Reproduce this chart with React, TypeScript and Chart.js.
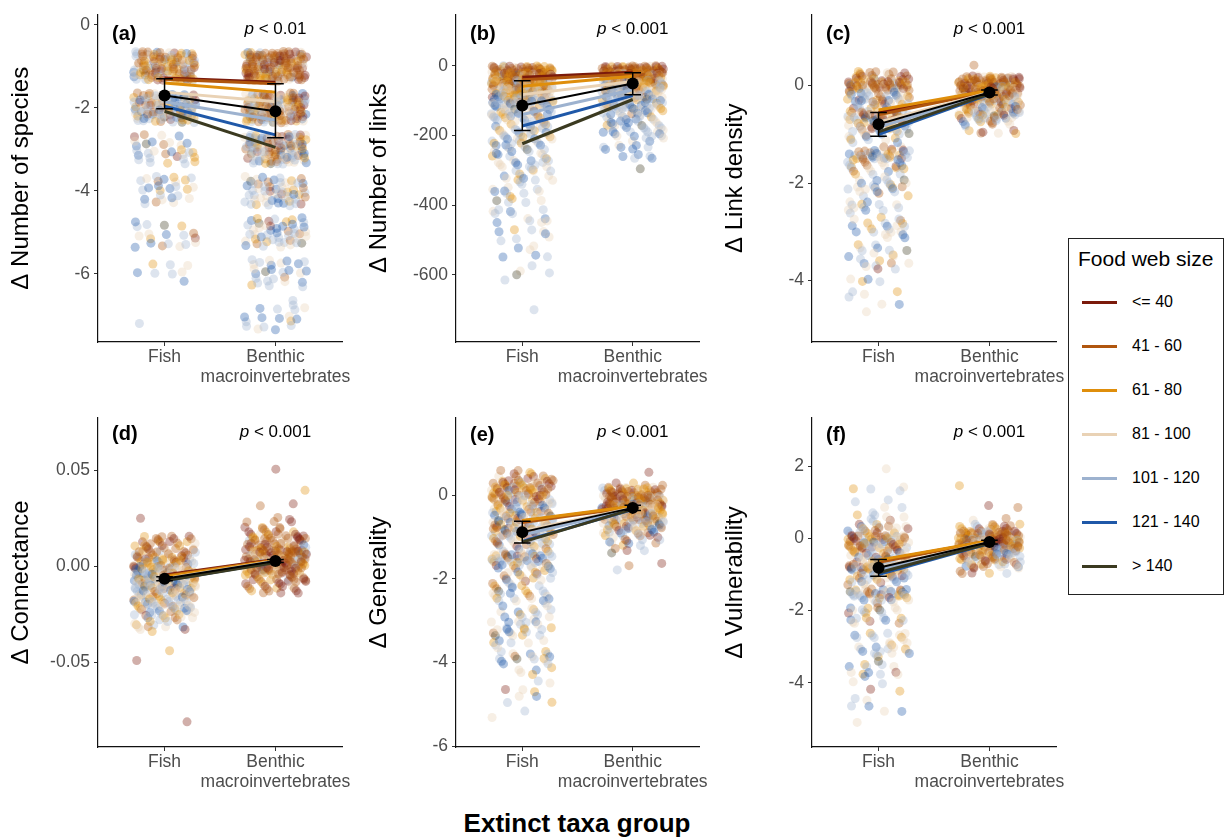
import React, { useEffect, useRef } from "react";
import { Chart, registerables } from "chart.js";

Chart.register(...registerables);

const FONT = "'Liberation Sans', Arial, Helvetica, sans-serif";

const SIZE_CLASSES = ["<= 40", "41 - 60", "61 - 80", "81 - 100", "101 - 120", "121 - 140", "> 140"];
const CLASS_COLORS = ["#7b1a0b", "#b0560e", "#df8e0b", "#e9d2b5", "#9db2cf", "#1f58a8", "#3b3a20"];
const GROUPS: (string | string[])[] = ["Fish", ["Benthic", "macroinvertebrates"]];
const X_TITLE = "Extinct taxa group";
const LEGEND_TITLE = "Food web size";

// rows: [y level, counts per food-web-size class (<=40 ... >140)]
// (a) number of species
const A_TICKS = [0, -2, -4, -6];
const A_FISH_ROWS = [
  [-1, 14, 30, 30, 20, 20, 8, 2],
  [-2, 6, 14, 16, 18, 28, 18, 3],
  [-3, 2, 3, 5, 6, 8, 6, 1],
  [-4, 0, 2, 4, 6, 8, 6, 0],
  [-5, 1, 2, 2, 4, 5, 4, 1],
  [-6, 0, 0, 1, 2, 3, 2, 0],
  [-7, 0, 0, 0, 0, 1, 0, 0],
];
const A_BENTHIC_ROWS = [
  [-1, 30, 50, 30, 20, 15, 5, 2],
  [-2, 18, 30, 25, 25, 25, 10, 3],
  [-3, 10, 18, 14, 20, 25, 15, 3],
  [-4, 3, 6, 6, 12, 18, 10, 1],
  [-5, 2, 4, 5, 10, 14, 10, 2],
  [-6, 0, 1, 1, 6, 10, 8, 1],
  [-7, 0, 0, 1, 3, 8, 6, 0],
];
const A_CLASS_FISH = [-1.28, -1.31, -1.4, -1.62, -1.85, -1.96, -2.08];
const A_CLASS_BENTHIC = [-1.38, -1.42, -1.62, -1.85, -2.3, -2.65, -2.95];
const A_MEAN = [-1.7, -2.08];
const A_LOW = [-2.02, -2.72];
const A_HIGH = [-1.3, -1.42];

// (b) number of links
const B_TICKS = [0, -200, -400, -600];
const B_FISH_ROWS = [
  [-10, 10, 20, 12, 6, 3, 0, 0],
  [-30, 8, 16, 14, 8, 4, 1, 0],
  [-50, 4, 12, 14, 10, 6, 2, 0],
  [-70, 2, 8, 12, 12, 8, 2, 0],
  [-90, 1, 4, 8, 10, 12, 4, 0],
  [-110, 0, 2, 4, 8, 12, 8, 1],
  [-130, 0, 1, 2, 6, 8, 4, 1],
  [-150, 0, 1, 2, 5, 5, 2, 0],
  [-170, 0, 1, 2, 4, 5, 2, 0],
  [-190, 0, 0, 2, 4, 5, 2, 0],
  [-210, 0, 0, 2, 3, 4, 2, 0],
  [-230, 0, 0, 2, 2, 4, 3, 0],
  [-250, 0, 0, 1, 3, 3, 3, 1],
  [-270, 0, 0, 1, 2, 3, 2, 0],
  [-290, 0, 0, 1, 3, 3, 1, 0],
  [-310, 0, 0, 1, 2, 3, 1, 0],
  [-330, 0, 0, 1, 2, 2, 1, 0],
  [-350, 0, 0, 0, 2, 2, 1, 0],
  [-370, 0, 0, 1, 1, 2, 1, 0],
  [-390, 0, 0, 1, 1, 2, 0, 1],
  [-410, 0, 0, 0, 1, 2, 1, 0],
  [-430, 0, 0, 0, 1, 2, 1, 0],
  [-450, 0, 0, 0, 2, 1, 1, 0],
  [-470, 0, 0, 1, 1, 1, 1, 0],
  [-490, 0, 0, 0, 1, 1, 1, 0],
  [-510, 0, 0, 0, 1, 1, 0, 0],
  [-530, 0, 0, 0, 1, 0, 1, 0],
  [-550, 0, 0, 0, 0, 1, 2, 0],
  [-570, 0, 0, 0, 0, 1, 0, 0],
  [-590, 0, 0, 0, 1, 1, 0, 1],
  [-610, 0, 0, 0, 0, 1, 0, 0],
  [-710, 0, 0, 0, 0, 1, 0, 0],
];
const B_BENTHIC_ROWS = [
  [-10, 16, 26, 14, 6, 2, 0, 0],
  [-30, 8, 18, 16, 10, 5, 1, 0],
  [-50, 3, 8, 12, 12, 10, 3, 0],
  [-70, 1, 4, 6, 10, 12, 5, 0],
  [-90, 0, 2, 3, 8, 10, 5, 1],
  [-110, 0, 1, 2, 6, 8, 5, 0],
  [-130, 0, 1, 2, 5, 6, 4, 1],
  [-150, 0, 0, 1, 4, 5, 4, 0],
  [-170, 0, 0, 1, 3, 4, 4, 1],
  [-190, 0, 0, 0, 2, 3, 4, 0],
  [-210, 0, 0, 0, 3, 3, 2, 0],
  [-230, 0, 0, 0, 1, 2, 3, 0],
  [-250, 0, 0, 0, 0, 1, 2, 0],
  [-270, 0, 0, 0, 0, 1, 2, 0],
  [-305, 0, 0, 0, 0, 0, 0, 1],
];
const B_CLASS_FISH = [-33, -40, -59, -83, -140, -173, -224];
const B_CLASS_BENTHIC = [-19, -24, -30, -45, -69, -86, -97];
const B_MEAN = [-114, -51];
const B_LOW = [-186, -83];
const B_HIGH = [-43, -20];

// (c) link density
const C_TICKS = [0, -2, -4];
const C_FISH_ROWS = [
  [0.2, 6, 8, 6, 3, 2, 0, 0],
  [0.0, 10, 16, 12, 6, 4, 1, 0],
  [-0.2, 2, 4, 4, 6, 8, 4, 0],
  [-0.4, 2, 3, 4, 5, 6, 4, 0],
  [-0.6, 4, 6, 6, 6, 6, 3, 1],
  [-0.8, 3, 5, 5, 6, 6, 3, 1],
  [-1.0, 0, 1, 2, 3, 4, 3, 1],
  [-1.2, 0, 1, 1, 2, 2, 1, 0],
  [-1.4, 3, 6, 5, 6, 8, 6, 1],
  [-1.6, 1, 3, 3, 4, 5, 3, 0],
  [-1.8, 0, 1, 2, 2, 2, 1, 0],
  [-2.0, 0, 1, 2, 3, 4, 3, 1],
  [-2.2, 0, 1, 1, 3, 3, 2, 0],
  [-2.4, 0, 0, 1, 2, 3, 1, 0],
  [-2.6, 0, 0, 1, 2, 3, 1, 0],
  [-2.8, 0, 1, 2, 3, 3, 2, 0],
  [-3.0, 0, 0, 1, 3, 2, 2, 0],
  [-3.2, 0, 0, 1, 1, 1, 1, 0],
  [-3.4, 0, 0, 1, 2, 2, 1, 1],
  [-3.6, 0, 1, 1, 2, 2, 2, 0],
  [-3.8, 1, 0, 0, 1, 1, 0, 0],
  [-4.0, 0, 0, 1, 1, 1, 1, 0],
  [-4.2, 0, 0, 1, 1, 1, 0, 0],
  [-4.4, 0, 0, 0, 1, 1, 1, 0],
  [-4.7, 0, 0, 0, 1, 0, 0, 0],
];
const C_BENTHIC_ROWS = [
  [0.4, 0, 1, 0, 0, 0, 0, 0],
  [0.1, 14, 24, 16, 8, 4, 1, 0],
  [-0.1, 12, 20, 14, 10, 6, 2, 0],
  [-0.3, 6, 12, 10, 10, 8, 3, 0],
  [-0.5, 3, 6, 6, 8, 8, 4, 0],
  [-0.7, 2, 4, 4, 5, 6, 3, 1],
  [-0.9, 1, 1, 2, 1, 1, 0, 0],
  [-1.02, 1, 0, 0, 0, 0, 0, 0],
];
const C_CLASS_FISH = [-0.55, -0.6, -0.5, -0.75, -0.85, -1.0, -0.95];
const C_CLASS_BENTHIC = [-0.1, -0.12, -0.1, -0.14, -0.16, -0.18, -0.17];
const C_MEAN = [-0.79, -0.14];
const C_LOW = [-1.04, -0.19];
const C_HIGH = [-0.55, -0.09];

// (d) connectance
const D_TICKS = [0.05, 0, -0.05];
const D_FISH_ROWS = [
  [0.025, 1, 0, 0, 0, 0, 0, 0],
  [0.014, 4, 6, 3, 1, 0, 0, 0],
  [0.01, 3, 6, 4, 2, 1, 0, 0],
  [0.006, 4, 8, 5, 3, 2, 0, 0],
  [0.002, 3, 6, 8, 6, 5, 2, 0],
  [-0.002, 2, 5, 8, 8, 10, 4, 1],
  [-0.006, 2, 4, 8, 10, 12, 6, 1],
  [-0.01, 2, 3, 6, 10, 10, 5, 1],
  [-0.014, 1, 3, 5, 10, 8, 4, 0],
  [-0.018, 1, 2, 4, 8, 7, 4, 0],
  [-0.022, 1, 2, 3, 7, 6, 3, 0],
  [-0.026, 1, 2, 3, 5, 4, 2, 0],
  [-0.03, 0, 1, 2, 3, 2, 1, 0],
  [-0.034, 1, 0, 1, 1, 0, 0, 0],
  [-0.044, 0, 0, 1, 0, 0, 0, 0],
  [-0.048, 1, 0, 0, 0, 0, 0, 0],
  [-0.081, 1, 0, 0, 0, 0, 0, 0],
];
const D_BENTHIC_ROWS = [
  [0.05, 1, 0, 0, 0, 0, 0, 0],
  [0.04, 0, 0, 1, 0, 0, 0, 0],
  [0.032, 1, 1, 0, 0, 0, 0, 0],
  [0.026, 1, 1, 0, 0, 0, 0, 0],
  [0.022, 2, 3, 1, 0, 0, 0, 0],
  [0.018, 4, 5, 2, 1, 0, 0, 0],
  [0.014, 6, 9, 4, 2, 1, 0, 0],
  [0.01, 8, 12, 6, 4, 2, 1, 0],
  [0.006, 8, 14, 8, 6, 4, 1, 0],
  [0.002, 8, 14, 8, 6, 5, 2, 0],
  [-0.002, 8, 12, 6, 5, 3, 1, 0],
  [-0.006, 6, 9, 4, 3, 1, 0, 0],
  [-0.01, 5, 5, 2, 1, 0, 0, 0],
  [-0.014, 3, 2, 1, 0, 0, 0, 0],
];
const D_CLASS_FISH = [-0.0045, -0.005, -0.0055, -0.0065, -0.007, -0.0075, -0.0075];
const D_CLASS_BENTHIC = [0.0035, 0.0033, 0.003, 0.0028, 0.0025, 0.0022, 0.002];
const D_MEAN = [-0.0065, 0.0028];
const D_LOW = [-0.0076, 0.002];
const D_HIGH = [-0.0054, 0.0036];

// (e) generality
const E_TICKS = [0, -2, -4, -6];
const E_FISH_ROWS = [
  [0.5, 3, 4, 3, 1, 0, 0, 0],
  [0.3, 5, 8, 6, 3, 2, 0, 0],
  [0.1, 6, 10, 8, 4, 3, 1, 0],
  [-0.1, 4, 6, 6, 5, 5, 2, 0],
  [-0.3, 2, 4, 4, 6, 6, 3, 0],
  [-0.5, 2, 3, 4, 5, 6, 4, 1],
  [-0.7, 3, 4, 5, 5, 6, 3, 1],
  [-0.9, 3, 5, 5, 6, 6, 3, 1],
  [-1.1, 2, 3, 3, 4, 5, 2, 0],
  [-1.3, 1, 1, 2, 3, 3, 2, 0],
  [-1.5, 2, 4, 4, 6, 8, 6, 1],
  [-1.7, 1, 2, 3, 4, 5, 3, 1],
  [-1.9, 1, 2, 3, 3, 3, 1, 0],
  [-2.1, 1, 1, 2, 3, 3, 1, 0],
  [-2.3, 0, 1, 2, 2, 3, 2, 1],
  [-2.5, 0, 1, 1, 3, 3, 2, 0],
  [-2.7, 0, 0, 1, 3, 2, 2, 0],
  [-2.9, 0, 0, 1, 2, 2, 1, 0],
  [-3.1, 0, 0, 2, 3, 3, 2, 0],
  [-3.3, 0, 1, 2, 3, 3, 2, 1],
  [-3.5, 0, 0, 1, 2, 2, 1, 0],
  [-3.7, 0, 0, 1, 2, 2, 1, 0],
  [-3.9, 0, 1, 1, 2, 2, 2, 1],
  [-4.1, 0, 0, 1, 1, 1, 2, 0],
  [-4.3, 0, 0, 1, 1, 0, 0, 0],
  [-4.5, 0, 0, 0, 1, 1, 0, 0],
  [-4.65, 1, 0, 1, 1, 0, 0, 0],
  [-4.9, 0, 0, 1, 1, 1, 1, 0],
  [-5.1, 0, 0, 0, 0, 1, 0, 0],
  [-5.4, 0, 0, 0, 1, 0, 0, 0],
];
const E_BENTHIC_ROWS = [
  [0.5, 1, 0, 0, 0, 0, 0, 0],
  [0.3, 1, 2, 1, 0, 0, 0, 0],
  [0.1, 8, 14, 10, 6, 2, 0, 0],
  [-0.1, 10, 16, 12, 8, 5, 1, 0],
  [-0.3, 8, 14, 12, 10, 7, 2, 0],
  [-0.5, 5, 8, 8, 9, 8, 3, 0],
  [-0.7, 3, 5, 5, 6, 7, 3, 1],
  [-0.9, 2, 3, 3, 4, 5, 3, 0],
  [-1.1, 2, 2, 1, 2, 3, 2, 0],
  [-1.3, 1, 1, 0, 0, 1, 0, 1],
  [-1.6, 1, 1, 0, 0, 0, 0, 0],
  [-1.75, 0, 0, 0, 0, 1, 0, 0],
];
const E_CLASS_FISH = [-0.62, -0.65, -0.6, -0.85, -0.95, -1.1, -1.12];
const E_CLASS_BENTHIC = [-0.27, -0.28, -0.26, -0.3, -0.32, -0.34, -0.33];
const E_MEAN = [-0.88, -0.3];
const E_LOW = [-1.14, -0.36];
const E_HIGH = [-0.62, -0.24];

// (f) vulnerability
const F_TICKS = [2, 0, -2, -4];
const F_FISH_ROWS = [
  [1.9, 0, 0, 0, 1, 0, 0, 0],
  [1.4, 0, 0, 1, 1, 2, 0, 0],
  [1.1, 0, 0, 0, 0, 2, 0, 0],
  [0.8, 0, 0, 0, 1, 2, 0, 0],
  [0.6, 1, 0, 1, 2, 2, 0, 0],
  [0.4, 1, 1, 1, 2, 2, 1, 0],
  [0.2, 2, 3, 3, 3, 3, 1, 0],
  [0.0, 5, 8, 6, 5, 5, 2, 0],
  [-0.2, 4, 6, 6, 5, 5, 2, 0],
  [-0.4, 2, 3, 3, 4, 4, 2, 0],
  [-0.6, 2, 3, 4, 5, 5, 2, 1],
  [-0.8, 3, 5, 5, 7, 7, 3, 1],
  [-1.0, 2, 3, 3, 4, 5, 2, 0],
  [-1.2, 1, 1, 2, 3, 3, 2, 0],
  [-1.5, 2, 4, 4, 7, 8, 6, 1],
  [-1.7, 1, 1, 2, 3, 3, 2, 0],
  [-2.0, 1, 1, 2, 3, 3, 1, 1],
  [-2.3, 1, 1, 2, 3, 3, 2, 0],
  [-2.6, 0, 0, 1, 2, 2, 1, 0],
  [-2.8, 0, 0, 1, 3, 2, 0, 0],
  [-3.0, 0, 0, 2, 3, 2, 1, 0],
  [-3.2, 0, 0, 1, 2, 3, 2, 0],
  [-3.5, 0, 0, 1, 1, 2, 1, 1],
  [-3.8, 1, 0, 1, 2, 1, 2, 0],
  [-4.0, 0, 0, 0, 1, 1, 0, 0],
  [-4.2, 1, 0, 1, 0, 0, 0, 0],
  [-4.4, 0, 0, 0, 1, 1, 0, 0],
  [-4.7, 0, 0, 0, 1, 1, 2, 0],
  [-5.0, 0, 0, 0, 1, 0, 0, 0],
];
const F_BENTHIC_ROWS = [
  [1.4, 0, 0, 1, 0, 0, 0, 0],
  [0.9, 1, 1, 0, 0, 0, 0, 0],
  [0.55, 0, 1, 0, 1, 0, 0, 0],
  [0.3, 4, 7, 5, 3, 2, 0, 0],
  [0.1, 8, 14, 10, 7, 5, 1, 0],
  [-0.1, 8, 14, 10, 9, 7, 2, 0],
  [-0.3, 6, 10, 8, 8, 7, 3, 0],
  [-0.5, 4, 6, 5, 6, 6, 3, 1],
  [-0.7, 3, 4, 3, 4, 4, 2, 0],
  [-0.9, 2, 2, 1, 1, 1, 0, 0],
];
const F_CLASS_FISH = [-0.62, -0.66, -0.6, -0.8, -0.88, -1.0, -0.95];
const F_CLASS_BENTHIC = [-0.07, -0.08, -0.06, -0.1, -0.12, -0.14, -0.13];
const F_MEAN = [-0.81, -0.1];
const F_LOW = [-1.05, -0.15];
const F_HIGH = [-0.58, -0.05];

type Panel = {
  tag: string; title: string; p: string; min: number; max: number; ticks: number[]; decimals: number;
  yHalf: number; fish: number[][]; benthic: number[][]; clsFish: number[]; clsBenthic: number[];
  mean: number[]; low: number[]; high: number[];
  left: number; top: number; padTop: number; padRight: number; xAxisH: number; tagBase: number; pBase: number;
};

const PANELS: Panel[] = [
  { tag: "(a)", title: "Δ Number of species", p: "0.01", min: -7.64, max: 0.25, ticks: A_TICKS, decimals: 0, yHalf: 0.36,
    fish: A_FISH_ROWS, benthic: A_BENTHIC_ROWS, clsFish: A_CLASS_FISH, clsBenthic: A_CLASS_BENTHIC, mean: A_MEAN, low: A_LOW, high: A_HIGH,
    left: 0, top: 0, padTop: 13, padRight: 18, xAxisH: 58, tagBase: 25, pBase: 19.6 },
  { tag: "(b)", title: "Δ Number of links", p: "0.001", min: -793, max: 147, ticks: B_TICKS, decimals: 0, yHalf: 10,
    fish: B_FISH_ROWS, benthic: B_BENTHIC_ROWS, clsFish: B_CLASS_FISH, clsBenthic: B_CLASS_BENTHIC, mean: B_MEAN, low: B_LOW, high: B_HIGH,
    left: 358, top: 0, padTop: 13, padRight: 19, xAxisH: 58, tagBase: 25, pBase: 19.6 },
  { tag: "(c)", title: "Δ Link density", p: "0.001", min: -5.26, max: 1.46, ticks: C_TICKS, decimals: 0, yHalf: 0.1,
    fish: C_FISH_ROWS, benthic: C_BENTHIC_ROWS, clsFish: C_CLASS_FISH, clsBenthic: C_CLASS_BENTHIC, mean: C_MEAN, low: C_LOW, high: C_HIGH,
    left: 714, top: 0, padTop: 13, padRight: 18, xAxisH: 58, tagBase: 25, pBase: 19.6 },
  { tag: "(d)", title: "Δ Connectance", p: "0.001", min: -0.0943, max: 0.0774, ticks: D_TICKS, decimals: 2, yHalf: 0.002,
    fish: D_FISH_ROWS, benthic: D_BENTHIC_ROWS, clsFish: D_CLASS_FISH, clsBenthic: D_CLASS_BENTHIC, mean: D_MEAN, low: D_LOW, high: D_HIGH,
    left: 0, top: 400, padTop: 18, padRight: 18, xAxisH: 53, tagBase: 22, pBase: 19 },
  { tag: "(e)", title: "Δ Generality", p: "0.001", min: -6.02, max: 1.85, ticks: E_TICKS, decimals: 0, yHalf: 0.1,
    fish: E_FISH_ROWS, benthic: E_BENTHIC_ROWS, clsFish: E_CLASS_FISH, clsBenthic: E_CLASS_BENTHIC, mean: E_MEAN, low: E_LOW, high: E_HIGH,
    left: 358, top: 400, padTop: 18, padRight: 19, xAxisH: 53, tagBase: 23, pBase: 19 },
  { tag: "(f)", title: "Δ Vulnerability", p: "0.001", min: -5.78, max: 3.34, ticks: F_TICKS, decimals: 0, yHalf: 0.1,
    fish: F_FISH_ROWS, benthic: F_BENTHIC_ROWS, clsFish: F_CLASS_FISH, clsBenthic: F_CLASS_BENTHIC, mean: F_MEAN, low: F_LOW, high: F_HIGH,
    left: 714, top: 400, padTop: 18, padRight: 18, xAxisH: 53, tagBase: 23, pBase: 19 },
];

const CANVAS_W = 360;
const CANVAS_H = 400;
const Y_AXIS_W = 98;
const X_HALF = 0.28;
const CAP = 0.075;
const POINT_ALPHA = 0.35;

// jitter placement: points of a low-discrepancy (R2) set, visited in a scrambled order
const R2A = 0.7548776662466927;
const R2B = 0.5698402909980532;
const SCRAMBLE = 40503;
const SET_SIZE = 65521;
const frac = (v: number) => v - Math.floor(v);

function rgba(hex: string, a: number) {
  const n = parseInt(hex.slice(1), 16);
  return `rgba(${(n >> 16) & 255},${(n >> 8) & 255},${n & 255},${a})`;
}

function spread(rows: number[][], center: number, yHalf: number, seed: number) {
  const pts: { x: number; y: number }[] = [];
  const cls: number[] = [];
  let n = seed;
  for (const row of rows) {
    const y0 = row[0];
    const left = row.slice(1);
    let more = true;
    while (more) {
      more = false;
      for (let c = 0; c < left.length; c++) {
        if (left[c] > 0) {
          left[c]--;
          more = true;
          n++;
          const k = (n * SCRAMBLE) % SET_SIZE;
          const u = frac(0.5 + k * R2A);
          const v = frac(0.5 + k * R2B);
          pts.push({ x: center + (2 * u - 1) * X_HALF, y: y0 + (2 * v - 1) * yHalf });
          cls.push(c);
        }
      }
    }
  }
  return { pts, cls };
}

function PanelChart({ panel, index }: { panel: Panel; index: number }) {
  const ref = useRef<HTMLCanvasElement>(null);
  useEffect(() => {
    const canvas = ref.current;
    if (!canvas) return;
    const f = spread(panel.fish, 1, panel.yHalf, index * 3001 + 17);
    const b = spread(panel.benthic, 2, panel.yHalf, index * 3001 + 1517);
    const pts = [...f.pts, ...b.pts];
    const cols = [...f.cls, ...b.cls].map((c) => rgba(CLASS_COLORS[c], POINT_ALPHA));

    const datasets: any[] = [
      {
        data: pts,
        pointBackgroundColor: cols,
        pointBorderWidth: 0,
        pointBorderColor: "rgba(0,0,0,0)",
        pointRadius: 4.5,
        showLine: false,
        order: 100,
      },
      ...SIZE_CLASSES.map((_, i) => ({
        data: [
          { x: 1, y: panel.clsFish[i] },
          { x: 2, y: panel.clsBenthic[i] },
        ],
        showLine: true,
        borderColor: CLASS_COLORS[i],
        borderWidth: 3,
        pointRadius: 0,
        order: 50 - i,
      })),
      {
        data: [
          { x: 1, y: panel.mean[0] },
          { x: 2, y: panel.mean[1] },
        ],
        showLine: true,
        borderColor: "#000",
        borderWidth: 2,
        pointRadius: 6,
        pointBackgroundColor: "#000",
        pointBorderWidth: 0,
        order: 1,
      },
    ];

    const fmt = (v: number) => {
      const s = v.toFixed(panel.decimals);
      return s === "-0" || s === "-0.00" ? s.slice(1) : s;
    };

    const annot = {
      id: "annot" + index,
      afterDatasetsDraw(chart: any) {
        const { ctx, scales } = chart;
        const x = scales.x;
        const y = scales.y;
        ctx.save();
        ctx.strokeStyle = "#000";
        ctx.lineWidth = 1.5;
        [1, 2].forEach((g, i) => {
          const px = x.getPixelForValue(g);
          const cw = x.getPixelForValue(g + CAP) - px;
          const lo = y.getPixelForValue(panel.low[i]);
          const hi = y.getPixelForValue(panel.high[i]);
          ctx.beginPath();
          ctx.moveTo(px, lo);
          ctx.lineTo(px, hi);
          ctx.moveTo(px - cw, lo);
          ctx.lineTo(px + cw, lo);
          ctx.moveTo(px - cw, hi);
          ctx.lineTo(px + cw, hi);
          ctx.stroke();
        });
        ctx.restore();
      },
      afterDraw(chart: any) {
        const { ctx, chartArea, scales } = chart;
        ctx.save();
        ctx.fillStyle = "#000";
        ctx.textBaseline = "alphabetic";
        ctx.textAlign = "left";
        ctx.font = `bold 20px ${FONT}`;
        ctx.fillText(panel.tag, chartArea.left + 14, chartArea.top + panel.tagBase);
        const pItalic = `italic 17px ${FONT}`;
        const pNormal = `17px ${FONT}`;
        const rest = " < " + panel.p;
        ctx.font = pItalic;
        const w1 = ctx.measureText("p").width;
        ctx.font = pNormal;
        const w2 = ctx.measureText(rest).width;
        const cx = scales.x.getPixelForValue(2);
        const x0 = cx - (w1 + w2) / 2;
        const by = chartArea.top + panel.pBase;
        ctx.font = pItalic;
        ctx.fillText("p", x0, by);
        ctx.font = pNormal;
        ctx.fillText(rest, x0 + w1, by);
        ctx.restore();
      },
    };

    const chart = new Chart(canvas, {
      type: "scatter",
      data: { datasets },
      options: {
        animation: false,
        responsive: false,
        devicePixelRatio: 1,
        events: [],
        layout: { padding: { left: 0, top: panel.padTop, right: panel.padRight, bottom: 0 } },
        plugins: { legend: { display: false }, tooltip: { enabled: false } },
        scales: {
          x: {
            type: "linear",
            min: 0.4,
            max: 2.6,
            afterBuildTicks: (s: any) => {
              s.ticks = [{ value: 1 }, { value: 2 }];
            },
            afterFit: (s: any) => {
              s.height = panel.xAxisH;
            },
            ticks: {
              autoSkip: false,
              maxRotation: 0,
              padding: 2,
              color: "#4d4d4d",
              font: { family: FONT, size: 17.5, lineHeight: 1.1 },
              callback: (v: any) => GROUPS[Math.round(Number(v)) - 1] as any,
            },
            grid: { drawOnChartArea: false, tickLength: 4, color: "#333", lineWidth: 1 },
            border: { display: true, color: "#111", width: 1.2 },
          },
          y: {
            type: "linear",
            min: panel.min,
            max: panel.max,
            afterBuildTicks: (s: any) => {
              s.ticks = panel.ticks.map((v) => ({ value: v }));
            },
            afterFit: (s: any) => {
              s.width = Y_AXIS_W;
            },
            ticks: {
              padding: 4,
              color: "#4d4d4d",
              font: { family: FONT, size: 17.5 },
              callback: (v: any) => fmt(Number(v)),
            },
            grid: { drawOnChartArea: false, tickLength: 4, color: "#333", lineWidth: 1 },
            border: { display: true, color: "#111", width: 1.2 },
            title: {
              display: true,
              text: panel.title,
              color: "#000",
              font: { family: FONT, size: 24 },
              padding: { top: 7, bottom: 0 },
            },
          },
        },
      },
      plugins: [annot],
    } as any);
    return () => chart.destroy();
  }, [panel, index]);

  return (
    <canvas
      ref={ref}
      width={CANVAS_W}
      height={CANVAS_H}
      style={{ position: "absolute", left: panel.left, top: panel.top, width: CANVAS_W, height: CANVAS_H }}
    />
  );
}

export default function App() {
  return (
    <div
      style={{
        position: "absolute",
        left: 0,
        top: 0,
        width: 1228,
        height: 838,
        background: "#fff",
        fontFamily: FONT,
        overflow: "hidden",
      }}
    >
      {PANELS.map((p, i) => (
        <PanelChart key={p.tag} panel={p} index={i} />
      ))}
      <div
        style={{
          position: "absolute",
          left: 377,
          top: 806,
          width: 400,
          textAlign: "center",
          fontWeight: "bold",
          fontSize: 26,
          lineHeight: "34px",
          color: "#000",
        }}
      >
        {X_TITLE}
      </div>
      <div
        style={{
          position: "absolute",
          left: 1068,
          top: 238,
          width: 154,
          height: 355,
          border: "1.5px solid #222",
          background: "#fff",
        }}
      >
        <div style={{ position: "absolute", left: 9, top: 6, fontSize: 21, lineHeight: "28px", color: "#000", whiteSpace: "nowrap" }}>
          {LEGEND_TITLE}
        </div>
        {SIZE_CLASSES.map((label, i) => (
          <div key={label}>
            <div
              style={{
                position: "absolute",
                left: 13,
                top: 61.5 + 44 * i,
                width: 35,
                height: 3,
                background: CLASS_COLORS[i],
              }}
            />
            <div
              style={{
                position: "absolute",
                left: 63,
                top: 52 + 44 * i,
                fontSize: 16,
                lineHeight: "22px",
                color: "#000",
                whiteSpace: "nowrap",
              }}
            >
              {label}
            </div>
          </div>
        ))}
      </div>
    </div>
  );
}
